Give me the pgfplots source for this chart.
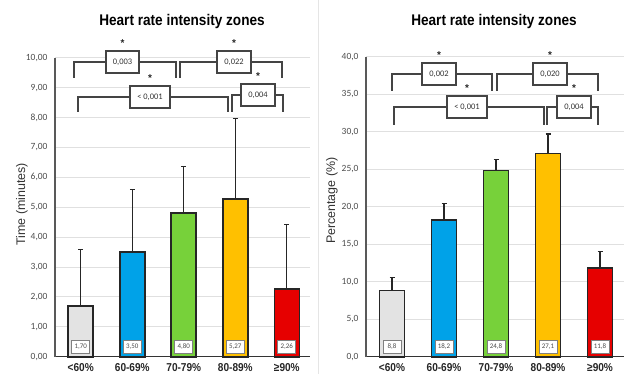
\documentclass[border=0pt]{standalone}
\usepackage{fontspec}
\setmainfont{Liberation Sans}
\newfontfamily\carlito{Carlito}
\newfontfamily\condsans[FakeStretch=0.88]{Liberation Sans}
\usepackage{pgfplots}
\pgfplotsset{compat=1.18}

\definecolor{cgray}{HTML}{E3E3E3}
\definecolor{cblue}{HTML}{00A2E8}
\definecolor{cgreen}{HTML}{77D13A}
\definecolor{cyellow}{HTML}{FFC000}
\definecolor{cred}{HTML}{E60000}
\definecolor{cline}{HTML}{444444}

\tikzset{
  brk/.style={draw=cline, line width=1.2bp},
  pbox/.style={draw=cline, line width=1.3bp, fill=white, minimum height=22bp, inner sep=0pt,
    font=\carlito\fontsize{8.5}{9}\selectfont, text=black!80},
  star/.style={font=\bfseries\fontsize{10}{10}\selectfont, inner sep=0pt, text=black!85},
  vbox/.style={draw=black!50, line width=0.8bp, fill=white, minimum width=18bp, minimum height=13bp,
    inner sep=1bp, font=\carlito\fontsize{7}{7}\selectfont, text=black!70},
}
% #1 x1, #2 x2, #3 yh, #4 yend, #5 box cx, #6 box width, #7 text
\newcommand{\brk}[7]{%
  \draw[brk] (#1,#4) -- (#1,#3) -- (#2,#3) -- (#2,#4);
  \node[pbox, minimum width=#6] at (#5,#3) {#7};
  \node[star] at ({#5},{#3-19}) {*};
}

\pgfplotsset{
  panel/.style={
    scale only axis,
    clip=false,
    axis x line*=bottom, axis y line*=left,
    x axis line style={draw=black!80, line width=1.5bp, -},
    y axis line style={draw=black!65, line width=1.2bp, -},
    major tick length=0pt,
    ymajorgrids, grid style={draw=black!12, line width=0.8bp},
    xtick={0,1,2,3,4},
    xticklabels={<60\%, 60-69\%, 70-79\%, 80-89\%, ≥90\%},
    xticklabel style={font=\condsans\bfseries\fontsize{11.5}{12}\selectfont, text=black!85, yshift=-3.5bp},
    yticklabel style={font=\carlito\fontsize{9.5}{10}\selectfont, text=black!70, xshift=-4bp},
  },
  zbar/.style={ybar, bar width=25bp, bar shift=0pt, fill=#1, draw=black!85, line width=1.6bp,
    error bars/.cd, y dir=plus, y explicit,
    error bar style={line width=1.3bp, draw=black!85},
    error mark options={rotate=90, line width=1.3bp, mark size=2.5bp, draw=black!85}},
}

\begin{document}
\begin{tikzpicture}
\useasboundingbox (0,0) rectangle (624bp,374bp);

% separator
\draw[black!10, line width=0.8bp] (318bp,0) -- (318bp,374bp);

% ---------- Left panel ----------
\begin{axis}[panel,
  at={(55bp,17.3bp)}, anchor=south west,
  width=255bp, height=299bp,
  xmin=-0.5, xmax=4.45, ymin=0, ymax=10,
  ytick={0,1,...,10},
  yticklabel style={/pgf/number format/.cd, fixed, fixed zerofill, precision=2, use comma, assume math mode=true},
  ylabel={Time (minutes)},
  every axis y label/.style={at={(axis description cs:-0.13,0.51)}, rotate=90, anchor=center,
    font=\fontsize{12.5}{13}\selectfont, text=black!80},
]
\addplot[zbar=cgray]   coordinates {(0,1.70) +- (0,1.89)};
\addplot[zbar=cblue]   coordinates {(1,3.50) +- (0,2.09)};
\addplot[zbar=cgreen]  coordinates {(2,4.80) +- (0,1.56)};
\addplot[zbar=cyellow] coordinates {(3,5.27) +- (0,2.69)};
\addplot[zbar=cred]    coordinates {(4,2.26) +- (0,2.17)};
\node[vbox] at (axis cs:0,0) [yshift=9.7bp] {1,70};
\node[vbox] at (axis cs:1,0) [yshift=9.7bp] {3,50};
\node[vbox] at (axis cs:2,0) [yshift=9.7bp] {4,80};
\node[vbox] at (axis cs:3,0) [yshift=9.7bp] {5,27};
\node[vbox] at (axis cs:4,0) [yshift=9.7bp] {2,26};
\end{axis}

% ---------- Right panel ----------
\begin{axis}[panel,
  at={(366bp,17.3bp)}, anchor=south west,
  width=258bp, height=300bp,
  xmin=-0.5, xmax=4.46, ymin=0, ymax=40,
  ytick={0,5,...,40},
  yticklabel style={/pgf/number format/.cd, fixed, fixed zerofill, precision=1, use comma, assume math mode=true},
  ylabel={Percentage (\%)},
  every axis y label/.style={at={(axis description cs:-0.132,0.52)}, rotate=90, anchor=center,
    font=\fontsize{12.5}{13}\selectfont, text=black!80},
]
\addplot[zbar=cgray]   coordinates {(0,8.8) +- (0,1.8)};
\addplot[zbar=cblue]   coordinates {(1,18.2) +- (0,2.2)};
\addplot[zbar=cgreen]  coordinates {(2,24.8) +- (0,1.5)};
\addplot[zbar=cyellow] coordinates {(3,27.1) +- (0,2.6)};
\addplot[zbar=cred]    coordinates {(4,11.8) +- (0,2.2)};
\node[vbox] at (axis cs:0,0) [yshift=9.7bp] {8,8};
\node[vbox] at (axis cs:1,0) [yshift=9.7bp] {18,2};
\node[vbox] at (axis cs:2,0) [yshift=9.7bp] {24,8};
\node[vbox] at (axis cs:3,0) [yshift=9.7bp] {27,1};
\node[vbox] at (axis cs:4,0) [yshift=9.7bp] {11,8};
\end{axis}

% ---------- Annotations (pixel coordinates, y downward) ----------
\begin{scope}[x=1bp, y=-1bp, yshift=374bp]
  \node[font=\condsans\bfseries\fontsize{15.5}{16}\selectfont, anchor=base] at (182,26) {Heart rate intensity zones};
  \node[font=\condsans\bfseries\fontsize{15.5}{16}\selectfont, anchor=base] at (494,26) {Heart rate intensity zones};
  % left brackets
  \brk{74}{176}{62}{78}{122.5}{33bp}{0,003}
  \brk{180}{282}{62}{78}{234}{34bp}{0,022}
  \brk{78}{228}{97}{112}{150}{40bp}{< 0,001}
  \brk{232}{283}{95}{112}{258}{34bp}{0,004}
  % right brackets
  \brk{392}{492}{74}{91}{439}{34bp}{0,002}
  \brk{497}{598}{74}{91}{550}{34bp}{0,020}
  \brk{394}{544}{107}{125}{467}{40bp}{< 0,001}
  \brk{547}{598}{107}{125}{574}{34bp}{0,004}
\end{scope}
\end{tikzpicture}
\end{document}
